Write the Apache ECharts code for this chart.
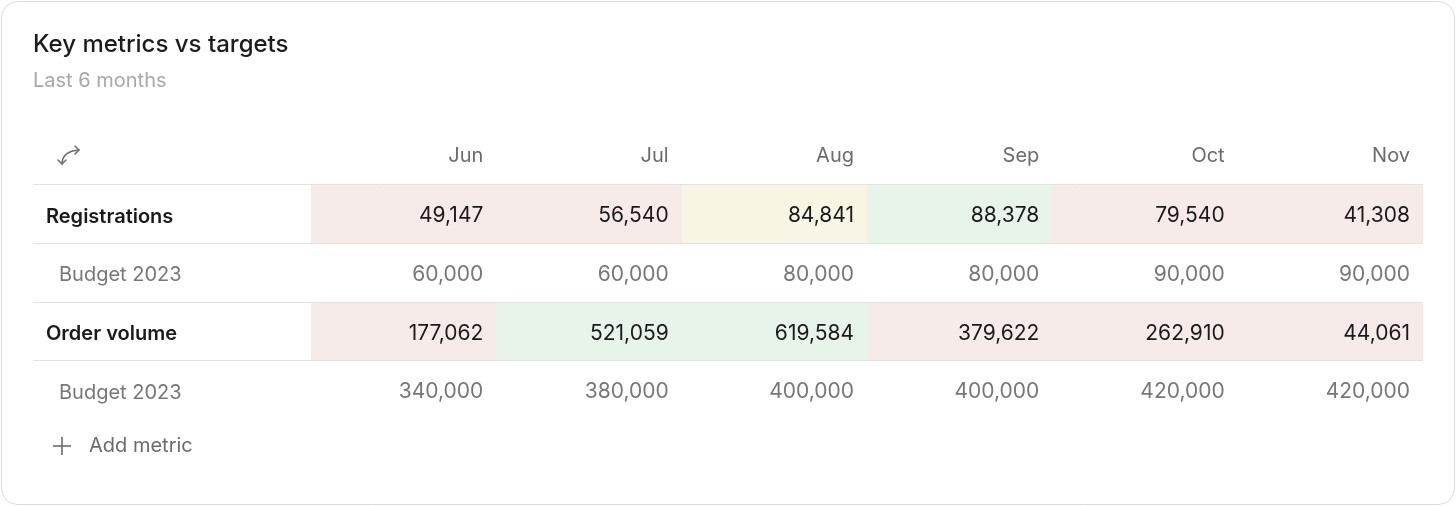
<!DOCTYPE html>
<html>
<head>
<meta charset="utf-8">
<script src="https://cdn.jsdelivr.net/npm/echarts@6/dist/echarts.min.js"></script>
<style>
  html, body { margin: 0; padding: 0; background: #ffffff; }
  #chart { width: 1456px; height: 506px; }
</style>
</head>
<body>
<div id="chart"></div>
<script>
// ---- data ----
const months = ['Jun', 'Jul', 'Aug', 'Sep', 'Oct', 'Nov'];
const rowLabels = ['Registrations', 'Budget 2023', 'Order volume', 'Budget 2023'];
const rowKinds = ['metric', 'budget', 'metric', 'budget'];
const registrations = [49147, 56540, 84841, 88378, 79540, 41308];
const registrationsBudget = [60000, 60000, 80000, 80000, 90000, 90000];
const orderVolume = [177062, 521059, 619584, 379622, 262910, 44061];
const orderVolumeBudget = [340000, 380000, 400000, 400000, 420000, 420000];

const rows = [registrations, registrationsBudget, orderVolume, orderVolumeBudget];
const budgetOf = [registrationsBudget, null, orderVolumeBudget, null];

const FONT = 'Inter, "Liberation Sans", sans-serif';
const GRID_LEFT = 311, GRID_RIGHT = 33, GRID_TOP = 185, GRID_H = 235;
const COL_W = (1456 - GRID_LEFT - GRID_RIGHT) / months.length;
const PAD = 13;
const LABEL_LEFT = 33;

function cellColor(v, b) {
  const r = v / b;
  if (r < 1) return '#f6ebe8';
  if (r < 1.08) return '#f8f5e5';
  return '#e8f3ea';
}

const cells = [];
rows.forEach((arr, ri) => {
  arr.forEach((v, ci) => cells.push([ci, ri, v]));
});

const chart = echarts.init(document.getElementById('chart'), null, { renderer: 'canvas' });

const option = {
  backgroundColor: '#ffffff',
  animation: false,
  title: {
    text: 'Key metrics vs targets',
    subtext: 'Last 6 months',
    left: 33, top: 33,
    padding: 0,
    itemGap: 14,
    textStyle: { fontFamily: FONT, fontSize: 24, fontWeight: 500, color: '#1c1c1c' },
    subtextStyle: { fontFamily: FONT, fontSize: 20, color: '#a8a8a8' }
  },
  grid: { left: GRID_LEFT, right: GRID_RIGHT, top: GRID_TOP, height: GRID_H },
  xAxis: {
    type: 'category',
    position: 'top',
    data: months,
    axisLine: { show: false },
    axisTick: { show: false },
    splitLine: { show: false },
    axisLabel: {
      margin: 29,
      align: 'center',
      verticalAlign: 'middle',
      formatter: v => '{m|' + v + '}',
      rich: {
        m: { width: COL_W - 2 * PAD, align: 'right', fontFamily: FONT, fontSize: 20, color: '#6b6b6b' }
      }
    }
  },
  yAxis: {
    type: 'category',
    inverse: true,
    data: rowLabels.map((l, i) => i + ''),
    axisLine: { show: false },
    axisTick: { show: false },
    splitLine: { show: false },
    axisLabel: {
      margin: GRID_LEFT - 46,
      align: 'left',
      verticalAlign: 'middle',
      formatter: v => {
        const i = +v;
        return rowKinds[i] === 'metric' ? '{m|' + rowLabels[i] + '}' : '{b|' + rowLabels[i] + '}';
      },
      rich: {
        m: { fontFamily: FONT, fontSize: 20, fontWeight: 600, color: '#1a1a1a', padding: [5, 0, 0, 0] },
        b: { fontFamily: FONT, fontSize: 20, color: '#777777', padding: [4, 0, 0, 13] }
      }
    }
  },
  series: [{
    type: 'custom',
    data: cells,
    encode: { x: 0, y: 1 },
    renderItem: function (params, api) {
      const ci = api.value(0), ri = api.value(1), v = api.value(2);
      const c = api.coord([ci, ri]);
      const s = api.size([1, 1]);
      const x0 = c[0] - s[0] / 2, y0 = c[1] - s[1] / 2;
      const cs = params.coordSys;
      const children = [];
      const isMetric = rowKinds[ri] === 'metric';
      if (isMetric) {
        const rx = Math.round(x0), ry = Math.round(y0);
        children.push({
          type: 'rect',
          shape: { x: rx, y: ry, width: Math.round(x0 + s[0]) - rx, height: Math.round(y0 + s[1]) - ry },
          style: { fill: cellColor(v, budgetOf[ri][ci]) },
          z2: 1
        });
      }
      children.push({
        type: 'text',
        style: {
          x: x0 + s[0] - PAD, y: c[1] + 1.5,
          text: echarts.format.addCommas(v),
          align: 'right', verticalAlign: 'middle',
          fontFamily: FONT, fontSize: 21,
          fill: isMetric ? '#1a1a1a' : '#777777'
        },
        z2: 3
      });
      if (ci === 0) {
        const lx1 = LABEL_LEFT, lx2 = cs.x + cs.width;
        if (ri === 0) {
          const yy = Math.round(y0) - 0.5;
          children.push({ type: 'line', shape: { x1: lx1, y1: yy, x2: lx2, y2: yy }, style: { stroke: '#e2e2e2', lineWidth: 1 }, z2: 2 });
        }
        if (ri < rows.length - 1) {
          const yy = Math.round(y0 + s[1]) - 0.5;
          children.push({ type: 'line', shape: { x1: lx1, y1: yy, x2: lx2, y2: yy }, style: { stroke: '#e2e2e2', lineWidth: 1 }, z2: 2 });
        }
      }
      return { type: 'group', children: children };
    }
  }],
  graphic: [
    {
      type: 'rect', z: -10,
      shape: { x: 1.5, y: 1.5, width: 1453, height: 503, r: 16 },
      style: { fill: '#ffffff', stroke: '#dcdcdc', lineWidth: 1 }
    },
    {
      type: 'bezierCurve', z: 10,
      shape: { x1: 62, y1: 164, cpx1: 62, cpy1: 156, cpx2: 68, cpy2: 150.5, x2: 79, y2: 150 },
      style: { fill: null, stroke: '#707070', lineWidth: 1.6, lineCap: 'round' }
    },
    {
      type: 'polyline', z: 10,
      shape: { points: [[75, 146], [79, 150], [75, 154]] },
      style: { fill: null, stroke: '#707070', lineWidth: 1.6, lineCap: 'round', lineJoin: 'round' }
    },
    {
      type: 'polyline', z: 10,
      shape: { points: [[58, 160], [62, 164], [66, 160]] },
      style: { fill: null, stroke: '#707070', lineWidth: 1.6, lineCap: 'round', lineJoin: 'round' }
    },
    {
      type: 'line', z: 10,
      shape: { x1: 53, y1: 446, x2: 71, y2: 446 },
      style: { stroke: '#6b6b6b', lineWidth: 1.6 }
    },
    {
      type: 'line', z: 10,
      shape: { x1: 62, y1: 437, x2: 62, y2: 455 },
      style: { stroke: '#6b6b6b', lineWidth: 1.6 }
    },
    {
      type: 'text', z: 10,
      style: { x: 89, y: 446, text: 'Add metric', fontFamily: FONT, fontSize: 20, fill: '#6b6b6b', verticalAlign: 'middle' }
    }
  ]
};

chart.setOption(option);
</script>
</body>
</html>
